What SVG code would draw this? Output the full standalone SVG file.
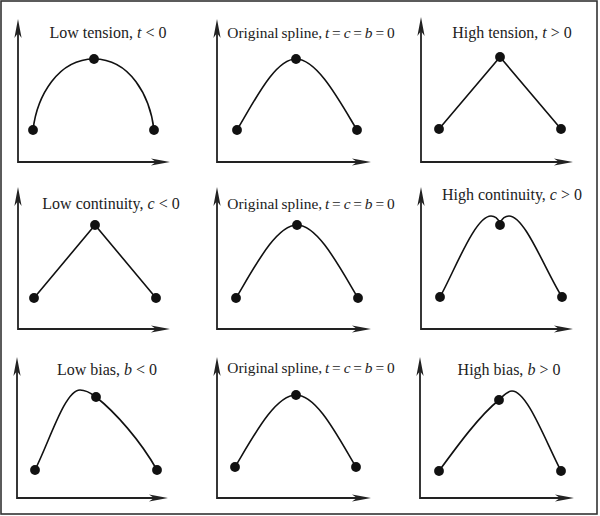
<svg xmlns="http://www.w3.org/2000/svg" width="600" height="516" viewBox="0 0 600 516">
<style>
.frame{fill:#fff;stroke:#333;stroke-width:1.6}
.axis{fill:none;stroke:#222;stroke-width:1.8;marker-start:url(#ah);marker-end:url(#ah)}
.curve{fill:none;stroke:#111;stroke-width:1.6}
.dot{fill:#111}
.lbl{font-family:"Liberation Serif","Times New Roman",serif;font-size:16px;fill:#222;text-anchor:middle}
.orig{font-size:15.4px;word-spacing:-1px}
.v{font-style:italic}
</style>
<defs>
<marker id="ah" viewBox="-20 -5 22 10" refX="-13" refY="0" markerWidth="22" markerHeight="10" markerUnits="userSpaceOnUse" orient="auto-start-reverse">
<path d="M0,0 L-19,-3.6 L-14,0 L-19,3.6 Z" fill="#222"/>
</marker>
</defs>
<rect class="frame" x="1" y="1" width="596" height="513"/>

<g id="p1">
<path class="axis" d="M18,32 L18,162 L157,162"/>
<path class="curve" d="M33,130 C37,96 58,59 94,59 C130,59 150,96 154,130"/>
<circle class="dot" cx="33" cy="130" r="4.9"/><circle class="dot" cx="94" cy="59" r="4.9"/><circle class="dot" cx="154" cy="130" r="4.9"/>
<text class="lbl" x="108" y="38">Low tension, <tspan class="v">t</tspan> &lt; 0</text>
</g>

<g id="p2">
<path class="axis" d="M217,32 L217,162 L358,162"/>
<path class="curve" d="M237,130 C255,100 275,59 296,59 C317,59 339,100 357,130"/>
<circle class="dot" cx="237" cy="130" r="4.9"/><circle class="dot" cx="296" cy="59" r="4.9"/><circle class="dot" cx="357" cy="130" r="4.9"/>
<text class="lbl orig" x="311" y="38">Original spline, <tspan class="v">t</tspan> = <tspan class="v">c</tspan> = <tspan class="v">b</tspan> = 0</text>
</g>

<g id="p3">
<path class="axis" d="M421,30 L421,162 L560,162"/>
<path class="curve" d="M439,129 L500,57 L561,129"/>
<circle class="dot" cx="439" cy="129" r="4.9"/><circle class="dot" cx="500" cy="57" r="4.9"/><circle class="dot" cx="561" cy="129" r="4.9"/>
<text class="lbl" x="512" y="38">High tension, <tspan class="v">t</tspan> &gt; 0</text>
</g>

<g id="p4">
<path class="axis" d="M18,200 L18,329 L157,329"/>
<path class="curve" d="M34,298 L95,225 L156,298"/>
<circle class="dot" cx="34" cy="298" r="4.9"/><circle class="dot" cx="95" cy="225" r="4.9"/><circle class="dot" cx="156" cy="298" r="4.9"/>
<text class="lbl" x="111" y="209">Low continuity, <tspan class="v">c</tspan> &lt; 0</text>
</g>

<g id="p5">
<path class="axis" d="M217,200 L217,329 L358,329"/>
<path class="curve" d="M236,298 C254,268 276,225 297,225 C318,225 340,268 358,298"/>
<circle class="dot" cx="236" cy="298" r="4.9"/><circle class="dot" cx="297" cy="225" r="4.9"/><circle class="dot" cx="358" cy="298" r="4.9"/>
<text class="lbl orig" x="311" y="209">Original spline, <tspan class="v">t</tspan> = <tspan class="v">c</tspan> = <tspan class="v">b</tspan> = 0</text>
</g>

<g id="p6">
<path class="axis" d="M421,200 L421,329 L560,329"/>
<path class="curve" d="M440,297 C455,270 475,216 491,216 C497,216 499,221 500,223 C501,221 503,216 509,216 C525,216 545,270 562,297"/>
<circle class="dot" cx="440" cy="297" r="4.9"/><circle class="dot" cx="500" cy="225" r="4.9"/><circle class="dot" cx="562" cy="297" r="4.9"/>
<text class="lbl" x="512" y="200">High continuity, <tspan class="v">c</tspan> &gt; 0</text>
</g>

<g id="p7">
<path class="axis" d="M17,370 L17,498 L155,498"/>
<path class="curve" d="M35,470 C50,440 65,390 80,390 C87,390 92,394 96,397 C115,412 140,440 157,470"/>
<circle class="dot" cx="35" cy="470" r="4.9"/><circle class="dot" cx="96" cy="397" r="4.9"/><circle class="dot" cx="157" cy="470" r="4.9"/>
<text class="lbl" x="107" y="375">Low bias, <tspan class="v">b</tspan> &lt; 0</text>
</g>

<g id="p8">
<path class="axis" d="M217,370 L217,498 L358,498"/>
<path class="curve" d="M235,467 C253,437 275,395 296,395 C317,395 338,437 356,467"/>
<circle class="dot" cx="235" cy="467" r="4.9"/><circle class="dot" cx="296" cy="395" r="4.9"/><circle class="dot" cx="356" cy="467" r="4.9"/>
<text class="lbl orig" x="311" y="373">Original spline, <tspan class="v">t</tspan> = <tspan class="v">c</tspan> = <tspan class="v">b</tspan> = 0</text>
</g>

<g id="p9">
<path class="axis" d="M420,370 L420,498 L561,498"/>
<path class="curve" d="M439,471 C458,445 480,415 499,400 C503,396 507,391 512,391 C527,391 545,440 561,471"/>
<circle class="dot" cx="439" cy="471" r="4.9"/><circle class="dot" cx="499" cy="400" r="4.9"/><circle class="dot" cx="561" cy="471" r="4.9"/>
<text class="lbl" x="509" y="375">High bias, <tspan class="v">b</tspan> &gt; 0</text>
</g>
</svg>
